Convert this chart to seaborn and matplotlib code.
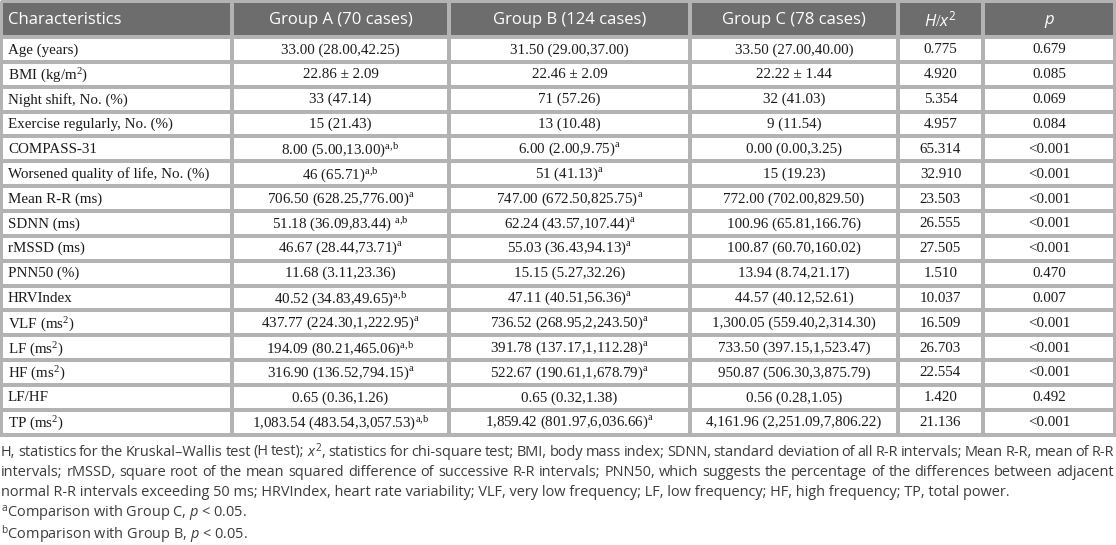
import numpy as np
import matplotlib
matplotlib.use("Agg")
import matplotlib.pyplot as plt
from matplotlib.colors import ListedColormap
import seaborn as sns

# ---------------- data ----------------
headers = ["Characteristics", "Group A (70 cases)", "Group B (124 cases)",
           "Group C (78 cases)", r"$\mathit{H/x}^{\mathsf{2}}$", "p"]

characteristics = ["Age (years)", "BMI (kg/m$^{2}$)", "Night shift, No. (%)",
                   "Exercise regularly, No. (%)", "COMPASS-31",
                   "Worsened quality of life, No. (%)", "Mean R-R (ms)", "SDNN (ms)",
                   "rMSSD (ms)", "PNN50 (%)", "HRVIndex", "VLF (ms$^{2}$)",
                   "LF (ms$^{2}$)", "HF (ms$^{2}$)", "LF/HF", "TP (ms$^{2}$)"]

group_a = ["33.00 (28.00,42.25)", "22.86 ± 2.09", "33 (47.14)", "15 (21.43)",
           "8.00 (5.00,13.00)", "46 (65.71)", "706.50 (628.25,776.00)",
           "51.18 (36.09,83.44) ", "46.67 (28.44,73.71)", "11.68 (3.11,23.36)",
           "40.52 (34.83,49.65)", "437.77 (224.30,1,222.95)", "194.09 (80.21,465.06)",
           "316.90 (136.52,794.15)", "0.65 (0.36,1.26)", "1,083.54 (483.54,3,057.53)"]
marks_a = ["", "", "", "", "a,b", "a,b", "a", "a,b", "a", "", "a,b", "a", "a,b", "a", "", "a,b"]

group_b = ["31.50 (29.00,37.00)", "22.46 ± 2.09", "71 (57.26)", "13 (10.48)",
           "6.00 (2.00,9.75)", "51 (41.13)", "747.00 (672.50,825.75)",
           "62.24 (43.57,107.44)", "55.03 (36.43,94.13)", "15.15 (5.27,32.26)",
           "47.11 (40.51,56.36)", "736.52 (268.95,2,243.50)", "391.78 (137.17,1,112.28)",
           "522.67 (190.61,1,678.79)", "0.65 (0.32,1.38)", "1,859.42 (801.97,6,036.66)"]
marks_b = ["", "", "", "", "a", "a", "a", "a", "a", "", "a", "a", "a", "a", "", "a"]

group_c = ["33.50 (27.00,40.00)", "22.22 ± 1.44", "32 (41.03)", "9 (11.54)",
           "0.00 (0.00,3.25)", "15 (19.23)", "772.00 (702.00,829.50)",
           "100.96 (65.81,166.76)", "100.87 (60.70,160.02)", "13.94 (8.74,21.17)",
           "44.57 (40.12,52.61)", "1,300.05 (559.40,2,314.30)", "733.50 (397.15,1,523.47)",
           "950.87 (506.30,3,875.79)", "0.56 (0.28,1.05)", "4,161.96 (2,251.09,7,806.22)"]
marks_c = [""] * 16

h_stat = ["0.775", "4.920", "5.354", "4.957", "65.314", "32.910", "23.503", "26.555",
          "27.505", "1.510", "10.037", "16.509", "26.703", "22.554", "1.420", "21.136"]
p_value = ["0.679", "0.085", "0.069", "0.084", "<0.001", "<0.001", "<0.001", "<0.001",
           "<0.001", "0.470", "0.007", "<0.001", "<0.001", "<0.001", "0.492", "<0.001"]

footnotes = [
    "H, statistics for the Kruskal–Wallis test (H test); $x^{\\mathsf{2}}$, statistics for chi-square test; "
    "BMI, body mass index; SDNN, standard deviation of all R-R intervals; Mean R-R, mean of R-R",
    "intervals; rMSSD, square root of the mean squared difference of successive R-R intervals; "
    "PNN50, which suggests the percentage of the differences between adjacent",
    "normal R-R intervals exceeding 50 ms; HRVIndex, heart rate variability; VLF, very low frequency; "
    "LF, low frequency; HF, high frequency; TP, total power.",
    "$^{\\mathsf{a}}$Comparison with Group C, $p$ < 0.05.",
    "$^{\\mathsf{b}}$Comparison with Group B, $p$ < 0.05.",
]
justify = [True, True, False, False, False]

# ---------------- style ----------------
sns.set_theme(style="white")
plt.rcParams["font.family"] = ["Liberation Serif", "DejaVu Serif"]
plt.rcParams["mathtext.fontset"] = "custom"
plt.rcParams["mathtext.rm"] = "Liberation Serif"
plt.rcParams["mathtext.it"] = "Open Sans:italic"
plt.rcParams["mathtext.sf"] = "Open Sans"

W, H = 1116, 545
fig = plt.figure(figsize=(W / 100, H / 100), dpi=100)
ax = fig.add_axes([0, 0, 1, 1])
ax.set_xlim(0, W)
ax.set_ylim(H, 0)
ax.axis("off")

col_edges = np.array([1, 232, 449, 690, 898, 983, 1115])
top, header_h, row_h = 1.0, 36.0, 24.85
n_rows = len(characteristics)
row_edges = np.concatenate([[top], top + header_h + row_h * np.arange(n_rows + 1)])

grid_color = "#b3b3b3"
header_color = "#6d6d6d"
Z = np.zeros((n_rows + 1, len(headers)))
Z[0, :] = 1
ax.pcolormesh(col_edges, row_edges, Z, cmap=ListedColormap(["white", header_color]),
              vmin=0, vmax=1, edgecolors=grid_color, linewidth=1.6, shading="flat")

centers_x = (col_edges[:-1] + col_edges[1:]) / 2
centers_y = (row_edges[:-1] + row_edges[1:]) / 2

# header
for j, h in enumerate(headers):
    kw = dict(color="white", fontsize=12, family=["Open Sans", "DejaVu Sans"], va="center")
    if j == 5:
        kw["fontstyle"] = "italic"
    if j == 0:
        ax.text(col_edges[0] + 7, centers_y[0] + 1, h, ha="left", **kw)
    else:
        ax.text(centers_x[j], centers_y[0] + 1, h, ha="center", **kw)

def with_mark(v, m):
    return v + ("$^{\\mathrm{%s}}$" % m.replace(",", "{,}") if m else "")

cols = [
    characteristics,
    [with_mark(v, m) for v, m in zip(group_a, marks_a)],
    [with_mark(v, m) for v, m in zip(group_b, marks_b)],
    [with_mark(v, m) for v, m in zip(group_c, marks_c)],
    h_stat,
    p_value,
]
data_fs = 10.8
for j, col in enumerate(cols):
    for i, v in enumerate(col):
        y = centers_y[i + 1] + 0.5
        if j == 0:
            ax.text(col_edges[0] + 7, y, v, ha="left", va="center", fontsize=data_fs, color="#1a1a1a")
        else:
            ax.text(centers_x[j], y, v, ha="center", va="center", fontsize=data_fs, color="#1a1a1a")

# footnotes
fn_family = ["Open Sans", "DejaVu Sans"]
fn_fs = 10.45
fn_color = "#3c3c3c"
fn_y = [452, 472.5, 493, 513.5, 534]
renderer = fig.canvas.get_renderer()
x0, x1 = 1.0, 1114.0
for line, yy, jst in zip(footnotes, fn_y, justify):
    if not jst:
        ax.text(x0, yy, line, ha="left", va="center", fontsize=fn_fs,
                family=fn_family, color=fn_color)
        continue
    words = line.split(" ")
    objs = [ax.text(0, yy, w_, ha="left", va="center", fontsize=fn_fs,
                    family=fn_family, color=fn_color) for w_ in words]
    widths = [o.get_window_extent(renderer).width for o in objs]
    gap = (x1 - x0 - sum(widths)) / (len(words) - 1)
    xx = x0
    for o, wd in zip(objs, widths):
        o.set_x(xx)
        xx += wd + gap

fig.savefig("out.png", dpi=100)
